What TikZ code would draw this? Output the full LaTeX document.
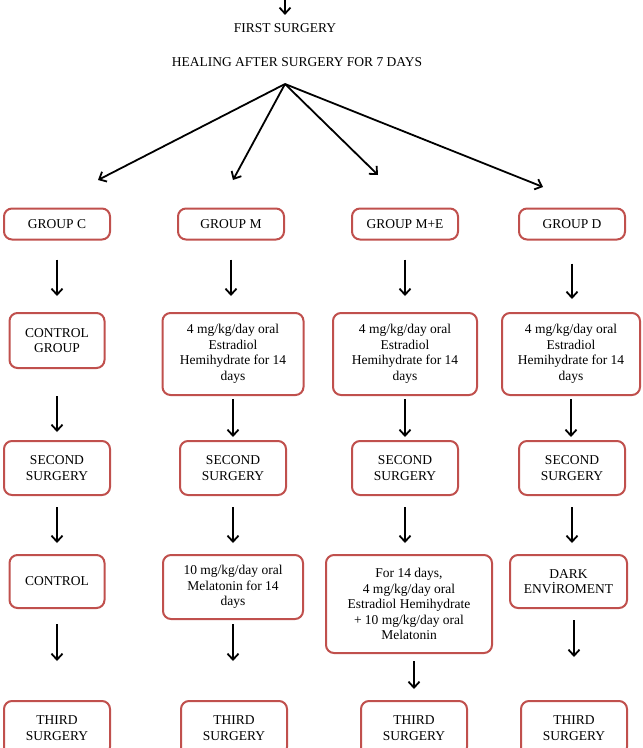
\documentclass[tikz,border=0pt]{standalone}
\usepackage{fontspec}
\setmainfont{Liberation Serif}
\usepackage{xcolor}
\usetikzlibrary{arrows.meta,positioning}
\definecolor{boxred}{RGB}{192,80,77}

\begin{document}
\begin{tikzpicture}[x=1pt, y=-1pt, >={Straight Barb[length=6pt,width=11pt]},
    every node/.style={font=\fontsize{13.5}{15.5}\selectfont, align=center},
    redbox/.style={rectangle, draw=boxred, line width=2pt, rounded corners=8pt, fill=white, inner sep=2pt},
    widebox/.style={redbox, minimum width=106pt, minimum height=54pt},
    arr/.style={->, line width=1.8pt}]
    \useasboundingbox (0,0) rectangle (643,748);
    \clip (0,0) rectangle (643,748);

    \coordinate (entry) at (285,-4);
    \node (first) at (285,28) {FIRST SURGERY};
    \node (heal) at (297,62) {HEALING AFTER SURGERY FOR 7 DAYS};
    \coordinate (fan) at (285,84);
    \coordinate (tipC) at (98,180);
    \coordinate (tipM) at (233,180);
    \coordinate (tipME) at (378,175);
    \coordinate (tipD) at (543,187);

    \node [redbox, minimum width=106pt, minimum height=31pt] (groupC) at (57,224) {GROUP C};
    \node [redbox, minimum width=106pt, minimum height=31pt] (groupM) at (231,224) {GROUP M};
    \node [redbox, minimum width=106pt, minimum height=31pt] (groupME) at (405,224) {GROUP M+E};
    \node [redbox, minimum width=106pt, minimum height=31pt] (groupD) at (572,224) {GROUP D};

    \node [redbox, minimum width=95pt, minimum height=55pt] (treatC) at (57,340.5) {CONTROL\\GROUP};
    \node [redbox, minimum width=141pt, minimum height=82pt] (treatM) at (233,354) {4 mg/kg/day oral\\Estradiol\\Hemihydrate for 14\\days};
    \node [redbox, minimum width=144pt, minimum height=82pt] (treatME) at (405,354) {4 mg/kg/day oral\\Estradiol\\Hemihydrate for 14\\days};
    \node [redbox, minimum width=138pt, minimum height=82pt] (treatD) at (571,354) {4 mg/kg/day oral\\Estradiol\\Hemihydrate for 14\\days};

    \node [widebox] (secondC) at (57,468) {SECOND\\SURGERY};
    \node [widebox] (secondM) at (233,468) {SECOND\\SURGERY};
    \node [widebox] (secondME) at (405,468) {SECOND\\SURGERY};
    \node [widebox] (secondD) at (572,468) {SECOND\\SURGERY};

    \node [redbox, minimum width=95pt, minimum height=53pt] (postC) at (57,581.5) {CONTROL};
    \node [redbox, minimum width=140pt, minimum height=64pt] (postM) at (233,587) {10 mg/kg/day oral\\Melatonin for 14\\days};
    \node [redbox, minimum width=166pt, minimum height=98pt] (postME) at (409,604) {For 14 days,\\4 mg/kg/day oral\\Estradiol Hemihydrate\\+ 10 mg/kg/day oral\\Melatonin};
    \node [redbox, minimum width=117pt, minimum height=53pt] (postD) at (568.5,581.5) {DARK\\ENVİROMENT};

    \node [widebox] (thirdC) at (57,728) {THIRD\\SURGERY};
    \node [widebox] (thirdM) at (234,728) {THIRD\\SURGERY};
    \node [widebox] (thirdME) at (414,728) {THIRD\\SURGERY};
    \node [widebox] (thirdD) at (574,728) {THIRD\\SURGERY};

    \draw [arr, shorten >=5pt] (entry) -- (first);
    \draw [arr] (fan) -- (tipC);
    \draw [arr] (fan) -- (tipM);
    \draw [arr] (fan) -- (tipME);
    \draw [arr] (fan) -- (tipD);

    \draw [arr, shorten <=19pt, shorten >=16pt] (treatC |- groupC.south) -- (treatC.north);
    \draw [arr, shorten <=19pt, shorten >=16pt] (groupM.south) -- (groupM.south |- treatM.north);
    \draw [arr, shorten <=19pt, shorten >=16pt] (treatME |- groupME.south) -- (treatME.north);
    \draw [arr, shorten <=23pt, shorten >=13pt] (groupD.south) -- (groupD.south |- treatD.north);

    \draw [arr, shorten <=27pt, shorten >=8pt] (secondC |- treatC.south) -- (secondC.north);
    \draw [arr, shorten <=3pt, shorten >=3pt] (secondM |- treatM.south) -- (secondM.north);
    \draw [arr, shorten <=3pt, shorten >=3pt] (secondME |- treatME.south) -- (secondME.north);
    \draw [arr, shorten <=3pt, shorten >=3pt] (treatD.south) -- (treatD.south |- secondD.north);

    \draw [arr, shorten <=11pt, shorten >=11pt] (secondC.south) -- (secondC.south |- postC.north);
    \draw [arr, shorten <=11pt, shorten >=11pt] (secondM.south) -- (secondM.south |- postM.north);
    \draw [arr, shorten <=11pt, shorten >=11pt] (secondME.south) -- (secondME.south |- postME.north);
    \draw [arr, shorten <=11pt, shorten >=11pt] (secondD.south) -- (secondD.south |- postD.north);

    \draw [arr, shorten <=15pt, shorten >=39pt] (thirdC |- postC.south) -- (thirdC.north);
    \draw [arr, shorten <=4pt, shorten >=39pt] (postM.south) -- (postM.south |- thirdM.north);
    \draw [arr, shorten <=7pt, shorten >=11pt] (thirdME |- postME.south) -- (thirdME.north);
    \draw [arr, shorten <=11pt, shorten >=43pt] (thirdD |- postD.south) -- (thirdD.north);
\end{tikzpicture}
\end{document}
